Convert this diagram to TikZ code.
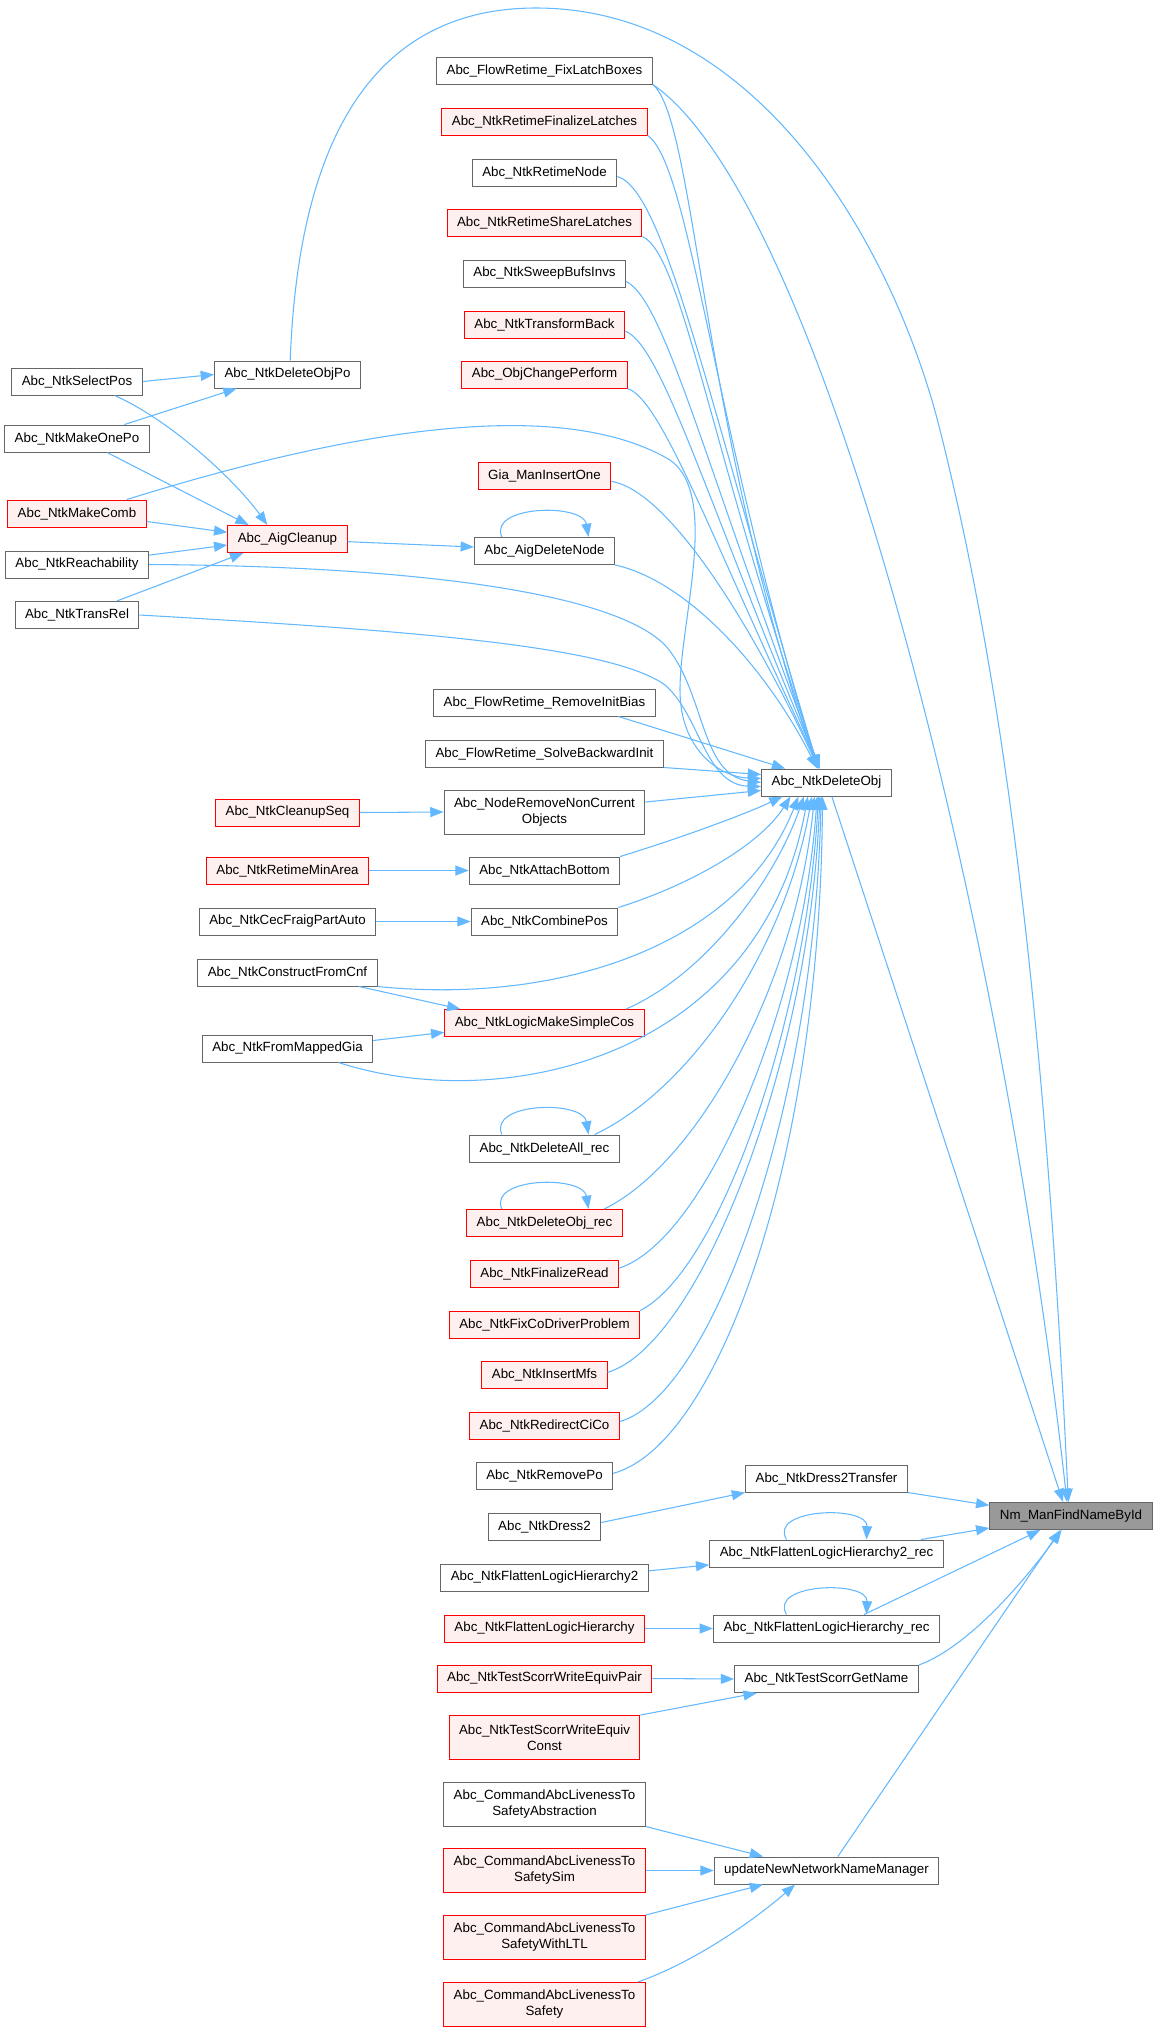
\documentclass[tikz,border=0pt]{standalone}
\usepackage{fontspec}
\setmainfont{Liberation Sans}
\usetikzlibrary{positioning}
\usetikzlibrary{arrows.meta}
\definecolor{callblue}{HTML}{63B8FF}
\definecolor{boxgrey}{HTML}{666666}
\definecolor{truncfill}{HTML}{FFF0F0}
\definecolor{rootfill}{HTML}{999999}

\begin{document}
\begin{tikzpicture}[->,>={Triangle[length=10pt,width=7.5pt]},x=0.75pt,y=-0.75pt,
  fn node/.style={rectangle,draw=boxgrey,fill=white,line width=0.75pt,font=\fontsize{10}{12}\selectfont,inner xsep=7.5pt,inner ysep=2pt,minimum height=20.25pt,align=center},
  trunc node/.style={fn node,draw=red,fill=truncfill},
  root node/.style={fn node,fill=rootfill},
  two lines/.style={minimum height=33pt},
  call/.style={draw=callblue,line width=0.8pt}]
\useasboundingbox (0,0) rectangle (1157,2031);

\node[fn node] (selectpos) at (77,381.5) {Abc\_NtkSelectPos};
\node[fn node] (makeonepo) at (77,438.5) {Abc\_NtkMakeOnePo};
\node[trunc node] (makecomb) at (77,513.5) {Abc\_NtkMakeComb};
\node[fn node] (reachability) at (77,564.5) {Abc\_NtkReachability};
\node[fn node] (transrel) at (77,615) {Abc\_NtkTransRel};

\node[fn node] (deleteobjpo) at (287.5,374.5) {Abc\_NtkDeleteObjPo};
\node[trunc node] (aigcleanup) at (287.5,539) {Abc\_AigCleanup};
\node[trunc node] (cleanupseq) at (287.5,812.5) {Abc\_NtkCleanupSeq};
\node[trunc node] (retimeminarea) at (287.5,870.5) {Abc\_NtkRetimeMinArea};
\node[fn node] (cecfraig) at (287.5,921.5) {Abc\_NtkCecFraigPartAuto};
\node[fn node] (constructcnf) at (287.5,972.5) {Abc\_NtkConstructFromCnf};
\node[fn node] (frommappedgia) at (287.5,1048.5) {Abc\_NtkFromMappedGia};

\node[fn node] (fixlatch) at (544.5,70.5) {Abc\_FlowRetime\_FixLatchBoxes};
\node[trunc node] (finalize) at (544.5,121.5) {Abc\_NtkRetimeFinalizeLatches};
\node[fn node] (retimenode) at (544.5,172.5) {Abc\_NtkRetimeNode};
\node[trunc node] (sharelatch) at (544.5,222.5) {Abc\_NtkRetimeShareLatches};
\node[fn node] (sweepbufs) at (544.5,273.5) {Abc\_NtkSweepBufsInvs};
\node[trunc node] (transformback) at (544.5,324.5) {Abc\_NtkTransformBack};
\node[trunc node] (objchange) at (544.5,374.5) {Abc\_ObjChangePerform};
\node[trunc node] (giainsert) at (544.5,476) {Gia\_ManInsertOne};
\node[fn node] (aigdelnode) at (544.5,551) {Abc\_AigDeleteNode};
\node[fn node] (initbias) at (544.5,702.5) {Abc\_FlowRetime\_RemoveInitBias};
\node[fn node] (solveback) at (544.5,753.5) {Abc\_FlowRetime\_SolveBackwardInit};
\node[fn node,two lines] (noderemove) at (544.5,812) {Abc\_NodeRemoveNonCurrent\\Objects};
\node[fn node] (attachbottom) at (544.5,870.5) {Abc\_NtkAttachBottom};
\node[fn node] (combinepos) at (544.5,921.5) {Abc\_NtkCombinePos};
\node[trunc node] (makesimplecos) at (544.5,1023) {Abc\_NtkLogicMakeSimpleCos};
\node[fn node] (deleteallrec) at (544.5,1148.5) {Abc\_NtkDeleteAll\_rec};
\node[trunc node] (deleteobjrec) at (544.5,1223) {Abc\_NtkDeleteObj\_rec};
\node[trunc node] (finalizeread) at (544.5,1273.5) {Abc\_NtkFinalizeRead};
\node[trunc node] (fixcodriver) at (544.5,1324.5) {Abc\_NtkFixCoDriverProblem};
\node[trunc node] (insertmfs) at (544.5,1375) {Abc\_NtkInsertMfs};
\node[trunc node] (redirect) at (544.5,1425.5) {Abc\_NtkRedirectCiCo};
\node[fn node] (removepo) at (544.5,1476) {Abc\_NtkRemovePo};
\node[fn node] (dress2) at (544.5,1526.5) {Abc\_NtkDress2};
\node[fn node] (flatten2) at (544.5,1577.5) {Abc\_NtkFlattenLogicHierarchy2};
\node[trunc node] (flatten) at (544.5,1628.5) {Abc\_NtkFlattenLogicHierarchy};
\node[trunc node] (equivpair) at (544.5,1678.5) {Abc\_NtkTestScorrWriteEquivPair};
\node[trunc node,two lines] (equivconst) at (544.5,1737.5) {Abc\_NtkTestScorrWriteEquiv\\Const};
\node[fn node,two lines] (safetyabs) at (544.5,1804) {Abc\_CommandAbcLivenessTo\\SafetyAbstraction};
\node[trunc node,two lines] (safetysim) at (544.5,1870.5) {Abc\_CommandAbcLivenessTo\\SafetySim};
\node[trunc node,two lines] (safetyltl) at (544.5,1937.5) {Abc\_CommandAbcLivenessTo\\SafetyWithLTL};
\node[trunc node,two lines] (safety) at (544.5,2004.5) {Abc\_CommandAbcLivenessTo\\Safety};

\node[fn node] (deleteobj) at (826.5,782.5) {Abc\_NtkDeleteObj};
\node[fn node] (dress2transfer) at (826.5,1478.5) {Abc\_NtkDress2Transfer};
\node[fn node] (flatten2rec) at (826.5,1553.5) {Abc\_NtkFlattenLogicHierarchy2\_rec};
\node[fn node] (flattenrec) at (826.5,1628.5) {Abc\_NtkFlattenLogicHierarchy\_rec};
\node[fn node] (getname) at (826.5,1679) {Abc\_NtkTestScorrGetName};
\node[fn node] (updatenm) at (826.5,1870.5) {updateNewNetworkNameManager};

\node[root node] (nm) at (1071,1516) {Nm\_ManFindNameById};

\draw[call] (selectpos.east) -- (deleteobjpo.west);
\draw[call] ([xshift=-19pt]makeonepo.north east) -- ([xshift=17pt]deleteobjpo.south west);
\draw[call] ([xshift=-21pt]selectpos.south east) .. controls (170,420) and (235,480) .. ([xshift=30pt]aigcleanup.north west);
\draw[call] ([xshift=-32pt]makeonepo.south east) -- ([xshift=16pt]aigcleanup.north west);
\draw[call] ([yshift=-6pt]makecomb.east) -- ([yshift=5pt]aigcleanup.west);
\draw[call] ([yshift=7pt]reachability.east) -- ([yshift=-4.5pt]aigcleanup.west);
\draw[call] ([xshift=-17pt]transrel.north east) -- ([xshift=12pt]aigcleanup.south west);
\draw[call] ([yshift=-2pt]aigcleanup.east) -- ([yshift=3pt]aigdelnode.west);
\draw[call] ([xshift=-32pt]aigdelnode.north) .. controls (488,505) and (583,503) .. ([xshift=33pt]aigdelnode.north);
\draw[call] (cleanupseq.east) -- (noderemove.west);
\draw[call] (retimeminarea.east) -- (attachbottom.west);
\draw[call] (cecfraig.east) -- (combinepos.west);
\draw[call] ([xshift=-14pt]constructcnf.south east) -- ([xshift=12pt]makesimplecos.north west);
\draw[call] ([yshift=6pt]frommappedgia.east) -- ([yshift=-7pt]makesimplecos.west);

\draw[call] (fixlatch.south east) .. controls (695,120) and (700,420) .. ([xshift=-7pt]deleteobj.north);
\draw[call] (finalize.south east) .. controls (690,165) and (712,420) .. ([xshift=-6.5pt]deleteobj.north);
\draw[call] ([yshift=-3pt]retimenode.east) .. controls (665,190) and (708,400) .. ([xshift=-6pt]deleteobj.north);
\draw[call] (sharelatch.south east) .. controls (682,255) and (708,440) .. ([xshift=-5.5pt]deleteobj.north);
\draw[call] ([yshift=-6pt]sweepbufs.east) .. controls (665,300) and (706,470) .. ([xshift=-5pt]deleteobj.north);
\draw[call] ([yshift=-5pt]transformback.east) .. controls (662,345) and (706,500) .. ([xshift=-5pt]deleteobj.north);
\draw[call] (objchange.south east) .. controls (662,400) and (712,540) .. ([xshift=-5pt]deleteobj.north);
\draw[call] ([yshift=-4pt]giainsert.east) .. controls (665,490) and (745,610) .. ([xshift=-6pt]deleteobj.north);
\draw[call] (aigdelnode.south east) .. controls (685,580) and (765,665) .. ([xshift=-7pt]deleteobj.north);
\draw[call] ([xshift=-15pt]makecomb.north east) .. controls (350,430) and (560,395) .. (670,460) .. controls (720,495) and (680,620) .. (680,690) .. controls (680,750) and (720,777) .. ([yshift=3pt]deleteobj.west);
\draw[call] (reachability.east) .. controls (400,566) and (610,590) .. (665,645) .. controls (705,690) and (700,775) .. (deleteobj.west);
\draw[call] (transrel.east) .. controls (400,630) and (610,645) .. (665,685) .. controls (700,715) and (705,785) .. ([yshift=-3pt]deleteobj.west);
\draw[call] ([xshift=-28pt]initbias.south east) -- ([xshift=18pt]deleteobj.north west);
\draw[call] (solveback.south east) -- ([yshift=6pt]deleteobj.west);
\draw[call] ([yshift=7.5pt]noderemove.east) -- ([yshift=-6pt]deleteobj.west);
\draw[call] (attachbottom.north east) .. controls (690,835) and (750,812) .. ([xshift=16pt]deleteobj.south west);
\draw[call] (combinepos.north east) .. controls (690,885) and (760,845) .. ([xshift=22pt]deleteobj.south west);
\draw[call] (constructcnf.south east) .. controls (560,1005) and (740,945) .. ([xshift=28pt]deleteobj.south west);
\draw[call] ([xshift=-14pt]makesimplecos.north east) .. controls (705,975) and (775,880) .. ([xshift=32pt]deleteobj.south west);
\draw[call] ([xshift=-26pt]frommappedgia.south east) .. controls (500,1115) and (760,1060) .. ([xshift=35pt]deleteobj.south west);
\draw[call] ([xshift=-19pt]deleteallrec.north east) .. controls (690,1090) and (785,950) .. ([xshift=38pt]deleteobj.south west);
\draw[call] ([xshift=-14pt]deleteobjrec.north east) .. controls (695,1165) and (795,990) .. ([xshift=40pt]deleteobj.south west);
\draw[call] ([yshift=4pt]finalizeread.east) .. controls (705,1240) and (802,1010) .. ([xshift=42pt]deleteobj.south west);
\draw[call] (fixcodriver.north east) .. controls (720,1270) and (806,1020) .. ([xshift=43pt]deleteobj.south west);
\draw[call] ([yshift=2pt]insertmfs.east) .. controls (700,1345) and (810,1060) .. ([xshift=44pt]deleteobj.south west);
\draw[call] ([yshift=3pt]redirect.east) .. controls (712,1395) and (814,1110) .. ([xshift=45pt]deleteobj.south west);
\draw[call] ([yshift=2pt]removepo.east) .. controls (718,1445) and (820,1160) .. ([xshift=46pt]deleteobj.south west);
\draw[call] ([xshift=-32pt]deleteallrec.north) .. controls (488,1102) and (583,1100) .. ([xshift=33pt]deleteallrec.north);
\draw[call] ([xshift=-32pt]deleteobjrec.north) .. controls (488,1177) and (583,1175) .. ([xshift=33pt]deleteobjrec.north);

\draw[call] ([xshift=4pt]deleteobj.south) -- ([xshift=-6pt]nm.north);
\draw[call] (fixlatch.south east) .. controls (820,200) and (1000,900) .. ([xshift=-3pt]nm.north);
\draw[call] ([xshift=2pt]deleteobjpo.north) .. controls (300,100) and (400,8) .. (536,8) .. controls (760,8) and (895,250) .. (940,430) .. controls (985,610) and (1040,900) .. ([xshift=-2pt]nm.north);
\draw[call] (dress2transfer.south east) -- ([yshift=8pt]nm.west);
\draw[call] ([xshift=-17pt]flatten2rec.north east) -- ([yshift=-9pt]nm.west);
\draw[call] ([xshift=-57pt]flattenrec.north east) -- ([xshift=-23pt]nm.south);
\draw[call] (getname.north east) .. controls (960,1650) and (1010,1600) .. ([xshift=-7pt]nm.south);
\draw[call] ([xshift=8.5pt]updatenm.north) -- ([xshift=-8pt]nm.south);
\draw[call] ([xshift=-30pt]flatten2rec.north) .. controls (768,1508) and (868,1505) .. ([xshift=30pt]flatten2rec.north);
\draw[call] ([xshift=-30pt]flattenrec.north) .. controls (768,1583) and (868,1580) .. ([xshift=30pt]flattenrec.north);

\draw[call] ([yshift=3pt]dress2.east) -- (dress2transfer.south west);
\draw[call] ([yshift=5pt]flatten2.east) -- ([yshift=-8.5pt]flatten2rec.west);
\draw[call] (flatten.east) -- (flattenrec.west);
\draw[call] (equivpair.east) -- (getname.west);
\draw[call] (equivconst.north east) -- ([xshift=17pt]getname.south west);
\draw[call] (safetyabs.south east) -- ([xshift=37pt]updatenm.north west);
\draw[call] (safetysim.east) -- (updatenm.west);
\draw[call] (safetyltl.north east) -- ([xshift=37pt]updatenm.south west);
\draw[call] ([xshift=-6pt]safety.north east) .. controls (700,1960) and (760,1915) .. ([xshift=61pt]updatenm.south west);
\end{tikzpicture}
\end{document}
